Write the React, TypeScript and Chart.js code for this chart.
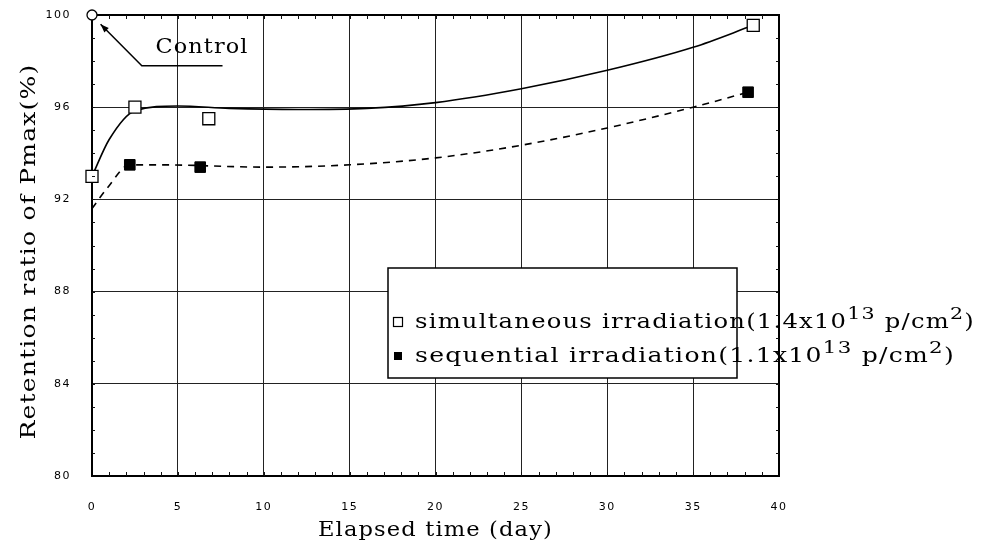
import React, { useEffect, useRef } from "react";
import { Chart, registerables } from "chart.js";

Chart.register(...registerables);

// Measured retention ratio of Pmax (%) against elapsed time (days)
const simDays = [0, 2.5, 6.8, 38.5];
const simValues = [93.0, 96.0, 95.5, 99.55];
const seqDays = [2.2, 6.3, 38.2];
const seqValues = [93.5, 93.4, 96.65];
const controlDay = [0];
const controlValue = [100];

// Fitted trend curves traced through the measurements
const simFitDays = [0, 1, 2.5, 5, 8, 12, 16, 20, 25, 30, 35, 38.5];
const simFitValues = [93.0, 94.6, 95.85, 96.05, 95.95, 95.9, 95.95, 96.2, 96.8, 97.6, 98.6, 99.55];
const seqFitDays = [0, 0.9, 2.2, 4, 10, 15, 20, 25, 30, 35, 38.2];
const seqFitValues = [91.6, 92.5, 93.5, 93.5, 93.4, 93.5, 93.8, 94.35, 95.1, 96.0, 96.65];

const xTicks = [0, 5, 10, 15, 20, 25, 30, 35, 40];
const yTicks = [80, 84, 88, 92, 96, 100];

const xTitle = "Elapsed time (day)";
const yTitle = "Retention ratio of Pmax(%)";
const controlLabel = "Control";
const legendRows = [
  { filled: false, width: 560, parts: ["simultaneous irradiation(1.4x10", "^13", " p/cm", "^2", ")"] },
  { filled: true, width: 540, parts: ["sequential irradiation(1.1x10", "^13", " p/cm", "^2", ")"] },
];

const SERIF = "'DejaVu Serif'";
const SANS = "'DejaVu Sans', sans-serif";

const pts = (xs: number[], ys: number[]) => xs.map((x, i) => ({ x, y: ys[i] }));

type Seg = { text: string; size: number; rise: number };

const toSegs = (parts: string[]): Seg[] =>
  parts.map((p) => (p.startsWith("^") ? { text: p.slice(1), size: 17, rise: 9 } : { text: p, size: 20, rise: 0 }));

// draws a run of text segments, widened to span the given width
function drawWide(ctx: CanvasRenderingContext2D, segs: Seg[], x: number, y: number, width: number, align: "left" | "center") {
  const c = ctx as any;
  ctx.save();
  c.letterSpacing = "1px";
  ctx.textAlign = "left";
  let natural = 0;
  for (const s of segs) {
    ctx.font = `${s.size}px ${SERIF}`;
    natural += ctx.measureText(s.text).width;
  }
  const sx = width / natural;
  ctx.translate(align === "center" ? x - width / 2 : x, y);
  ctx.scale(sx, 1);
  let cx = 0;
  for (const s of segs) {
    ctx.font = `${s.size}px ${SERIF}`;
    ctx.fillText(s.text, cx, -s.rise);
    cx += ctx.measureText(s.text).width;
  }
  ctx.restore();
}

// spaced-out tick digits
const tickSpacingPlugin = {
  id: "tickSpacing",
  beforeDraw(chart: any) {
    chart.ctx.letterSpacing = "1.5px";
  },
  beforeDatasetsDraw(chart: any) {
    chart.ctx.letterSpacing = "0px";
  },
};

const extrasPlugin = {
  id: "extras",
  beforeDatasetsDraw(chart: any) {
    const { ctx, chartArea: ca } = chart;
    // top and right edges of the plot frame
    ctx.save();
    ctx.strokeStyle = "#000";
    ctx.lineWidth = 2;
    ctx.beginPath();
    ctx.moveTo(ca.left, ca.top);
    ctx.lineTo(ca.right, ca.top);
    ctx.lineTo(ca.right, ca.bottom);
    ctx.stroke();
    ctx.restore();
  },
  afterDraw(chart: any) {
    const { ctx, chartArea: ca, scales } = chart;
    const xs = scales.x;
    const ys = scales.y;
    ctx.save();
    ctx.letterSpacing = "0px";

    // minor ticks on all four sides of the frame
    ctx.strokeStyle = "#111";
    ctx.lineWidth = 1;
    ctx.beginPath();
    for (let d = 1; d < 40; d++) {
      const px = Math.round(xs.getPixelForValue(d)) + 0.5;
      ctx.moveTo(px, ca.bottom);
      ctx.lineTo(px, ca.bottom - 4);
      ctx.moveTo(px, ca.top);
      ctx.lineTo(px, ca.top + 4);
    }
    for (let v = 81; v < 100; v++) {
      const py = Math.round(ys.getPixelForValue(v)) + 0.5;
      ctx.moveTo(ca.left, py);
      ctx.lineTo(ca.left + 3, py);
      ctx.moveTo(ca.right, py);
      ctx.lineTo(ca.right - 3, py);
    }
    ctx.stroke();

    // axis titles
    ctx.fillStyle = "#000";
    ctx.textBaseline = "alphabetic";
    drawWide(ctx, toSegs([xTitle]), (ca.left + ca.right) / 2, 536, 235, "center");
    ctx.save();
    ctx.translate(35, (ca.top + ca.bottom) / 2 + 6);
    ctx.rotate(-Math.PI / 2);
    drawWide(ctx, [{ text: yTitle, size: 21, rise: 0 }], 0, 0, 376, "center");
    ctx.restore();

    // "Control" callout with arrow to the reference point
    const tipX = xs.getPixelForValue(0.5);
    const tipY = ys.getPixelForValue(99.6);
    const elbowX = xs.getPixelForValue(2.9);
    const elbowY = ys.getPixelForValue(97.8);
    const endX = xs.getPixelForValue(7.6);
    ctx.strokeStyle = "#000";
    ctx.lineWidth = 1.5;
    ctx.beginPath();
    ctx.moveTo(endX, elbowY);
    ctx.lineTo(elbowX, elbowY);
    ctx.lineTo(tipX, tipY);
    ctx.stroke();
    const ang = Math.atan2(tipY - elbowY, tipX - elbowX);
    ctx.beginPath();
    ctx.moveTo(tipX, tipY);
    ctx.lineTo(tipX - 9 * Math.cos(ang - 0.35), tipY - 9 * Math.sin(ang - 0.35));
    ctx.lineTo(tipX - 9 * Math.cos(ang + 0.35), tipY - 9 * Math.sin(ang + 0.35));
    ctx.closePath();
    ctx.fill();
    drawWide(ctx, toSegs([controlLabel]), xs.getPixelForValue(3.7), ys.getPixelForValue(98.35), 93, "left");

    // legend box
    const bx = ca.left + 296;
    const by = ca.top + 253;
    const bw = 349;
    const bh = 110;
    ctx.fillStyle = "#fff";
    ctx.fillRect(bx, by, bw, bh);
    ctx.strokeStyle = "#000";
    ctx.lineWidth = 1.5;
    ctx.strokeRect(bx, by, bw, bh);

    legendRows.forEach((row, i) => {
      const cy = by + 54 + i * 34;
      const mx = bx + 10;
      ctx.lineWidth = 1.2;
      if (row.filled) {
        ctx.fillStyle = "#000";
        ctx.fillRect(mx - 4, cy - 4, 8, 8);
      } else {
        ctx.fillStyle = "#fff";
        ctx.fillRect(mx - 4.5, cy - 4.5, 9, 9);
        ctx.strokeRect(mx - 4.5, cy - 4.5, 9, 9);
      }
      ctx.fillStyle = "#000";
      drawWide(ctx, toSegs(row.parts), bx + 27, cy + 6, row.width, "left");
    });

    ctx.restore();
  },
};

export default function App() {
  const ref = useRef<HTMLCanvasElement | null>(null);

  useEffect(() => {
    document.body.style.margin = "0";
    const canvas = ref.current;
    if (!canvas) return;
    const chart = new Chart(canvas, {
      type: "scatter",
      data: {
        datasets: [
          {
            label: "control",
            data: pts(controlDay, controlValue),
            showLine: false,
            pointStyle: "circle",
            pointRadius: 5,
            pointBackgroundColor: "#fff",
            pointBorderColor: "#000",
            pointBorderWidth: 1.3,
            clip: false,
          },
          {
            label: "simultaneous",
            data: pts(simDays, simValues),
            showLine: false,
            pointStyle: "rect",
            pointRadius: 8.5,
            pointBackgroundColor: "#fff",
            pointBorderColor: "#000",
            pointBorderWidth: 1.3,
            clip: false,
          },
          {
            label: "sequential",
            data: pts(seqDays, seqValues),
            showLine: false,
            pointStyle: "rect",
            pointRadius: 7.5,
            pointBackgroundColor: "#000",
            pointBorderColor: "#000",
            pointBorderWidth: 1,
            clip: false,
          },
          {
            label: "simultaneous fit",
            data: pts(simFitDays, simFitValues),
            showLine: true,
            pointRadius: 0,
            borderColor: "#000",
            borderWidth: 1.6,
            cubicInterpolationMode: "monotone",
          },
          {
            label: "sequential fit",
            data: pts(seqFitDays, seqFitValues),
            showLine: true,
            pointRadius: 0,
            borderColor: "#000",
            borderWidth: 1.6,
            borderDash: [7, 6],
            cubicInterpolationMode: "monotone",
          },
        ],
      },
      options: {
        animation: false,
        responsive: false,
        events: [],
        layout: { padding: { left: 0, top: 15, right: 211, bottom: 0 } },
        plugins: { legend: { display: false }, tooltip: { enabled: false } },
        scales: {
          x: {
            type: "linear",
            min: 0,
            max: 40,
            afterBuildTicks: (s: any) => {
              s.ticks = xTicks.map((v) => ({ value: v }));
            },
            afterFit: (s: any) => {
              s.height = 74;
            },
            grid: { color: "#222", lineWidth: 1, drawTicks: false },
            border: { color: "#000", width: 2 },
            ticks: {
              padding: 25,
              color: "#000",
              font: { family: SANS, size: 11 },
            },
          },
          y: {
            type: "linear",
            min: 80,
            max: 100,
            afterBuildTicks: (s: any) => {
              s.ticks = yTicks.map((v) => ({ value: v }));
            },
            afterFit: (s: any) => {
              s.width = 92;
              s.paddingTop = 0;
              s.paddingBottom = 0;
            },
            grid: { color: "#222", lineWidth: 1, drawTicks: false },
            border: { color: "#000", width: 2 },
            ticks: {
              padding: 21,
              color: "#000",
              font: { family: SANS, size: 11 },
            },
          },
        },
      },
      plugins: [tickSpacingPlugin, extrasPlugin],
    } as any);
    return () => chart.destroy();
  }, []);

  return (
    <div style={{ position: "fixed", left: 0, top: 0, width: 990, height: 550, background: "#fff" }}>
      <canvas ref={ref} width={990} height={550} style={{ width: 990, height: 550 }} />
    </div>
  );
}
